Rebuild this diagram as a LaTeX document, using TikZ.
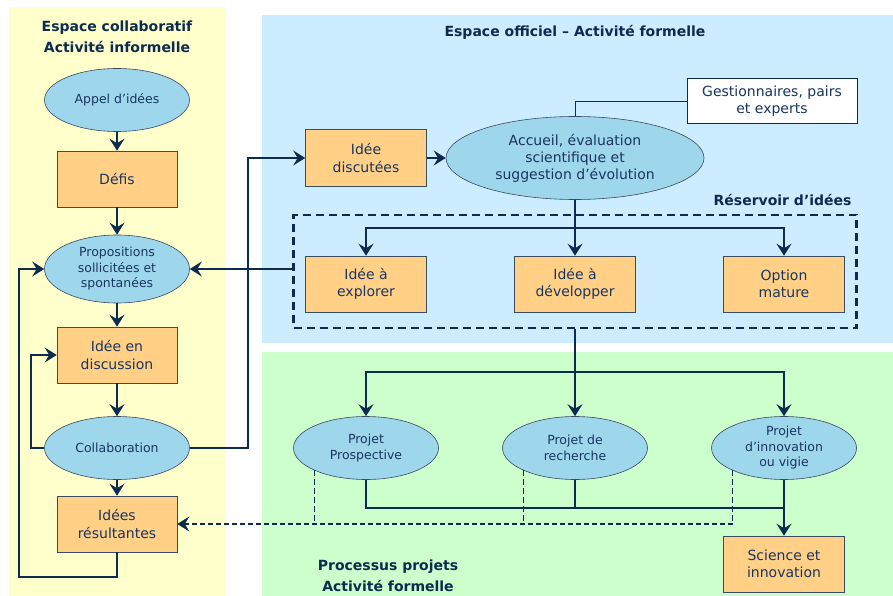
\documentclass[tikz,border=0pt]{standalone}
\usepackage{fontspec}
\setmainfont{DejaVu Sans}
\usetikzlibrary{shapes.geometric,arrows.meta}
\definecolor{ybg}{HTML}{FFFFCC}
\definecolor{bbg}{HTML}{CCECFF}
\definecolor{gbg}{HTML}{CCFFCC}
\definecolor{ellf}{HTML}{9ED6EC}
\definecolor{boxf}{HTML}{FFD086}
\definecolor{lc}{HTML}{0D2B4E}
\definecolor{txt}{HTML}{1A3560}
\definecolor{bord}{HTML}{3A4A60}
\tikzset{
  nfont/.style={font=\fontsize{12.5}{15.5}\selectfont, text=txt, align=center},
  bfont/.style={font=\fontsize{14}{17.5}\selectfont, text=txt, align=center},
  ell/.style={ellipse, draw=bord, line width=0.6pt, fill=ellf, minimum width=145pt, minimum height=63pt, inner sep=0pt, nfont},
  boxo/.style={rectangle, draw=bord, line width=0.6pt, fill=boxf, minimum width=121pt, minimum height=56pt, inner sep=0pt, bfont},
  ttl/.style={font=\fontsize{14}{21.5}\selectfont\bfseries, text=lc, align=center},
  lnk/.style={draw=lc, line width=2pt},
  tip/.style={-{Stealth[length=12pt,width=15pt,inset=4.5pt]}},
  conn/.style={lnk, tip},
  dsh/.style={draw=lc, line width=1.8pt, dash pattern=on 6pt off 3pt},
}
\begin{document}
\begin{tikzpicture}[x=1pt,y=-1pt]
\useasboundingbox (0,0) rectangle (893,596);
% backgrounds
\fill[ybg] (9,7) rectangle (226,596);
\fill[bbg] (262,15) rectangle (893,343);
\fill[gbg] (262,352) rectangle (893,596);
% titles
\node[ttl] (t1) at (117,37) {Espace collaboratif\\Activité informelle};
\node[ttl] (t2) at (575,32) {Espace officiel – Activité formelle};
\node[ttl, anchor=east] (t3) at (855,200) {Réservoir d’idées};
\node[ttl] (t4) at (388,576) {Processus projets\\Activité formelle};
% left column
\node[ell] (appel) at (117,100) {Appel d’idées};
\node[boxo, minimum width=120pt] (defis) at (117,179) {Défis};
\node[ell, minimum height=68pt] (prop) at (117,269) {Propositions\\sollicitées et\\spontanées};
\node[boxo, minimum width=120pt] (disc) at (117,355) {Idée en\\discussion};
\node[ell] (collab) at (117,448) {Collaboration};
\node[boxo, minimum width=120pt] (result) at (117,524) {Idées\\résultantes};
% official space
\node[boxo, minimum height=57pt] (ideed) at (366,158) {Idée\\discutées};
\node[ell, minimum width=258pt, minimum height=83pt, font=\fontsize{14}{17}\selectfont] (accueil) at (575,158) {Accueil, évaluation\\scientifique et\\suggestion d’évolution};
\node[rectangle, draw=lc, line width=0.8pt, fill=white, minimum width=170pt, minimum height=45pt, inner sep=0pt, nfont, font=\fontsize{14}{16.7}\selectfont] (gest) at (772,101) {Gestionnaires, pairs\\et experts};
\node[draw=lc, line width=2.5pt, dash pattern=on 8pt off 5pt, minimum width=563pt, minimum height=113pt, inner sep=0pt] (res) at (575,271.5) {};
\node[boxo] (explorer) at (366,284) {Idée à\\explorer};
\node[boxo] (devel) at (575,284) {Idée à\\développer};
\node[boxo] (option) at (784,284) {Option\\mature};
% projects
\node[ell] (pp) at (366,448) {Projet\\Prospective};
\node[ell] (pr) at (575,448) {Projet de\\recherche};
\node[ell] (pi) at (784,448) {Projet\\d’innovation\\ou vigie};
\node[boxo] (sci) at (784,564) {Science et\\innovation};
% coordinates
\coordinate (lb) at (19,577);
\coordinate (cr) at (248,448);
\coordinate (b1) at (575,228);
\coordinate (b2) at (575,372);
\coordinate (b3) at (784,508);
% left connectors
\draw[conn] (appel) -- (defis);
\draw[conn] (defis) -- (prop);
\draw[conn] (prop) -- (disc);
\draw[conn] (disc) -- (collab);
\draw[conn] (collab) -- (result);
\draw[conn] (result.south) |- (lb) |- (prop.west);
\draw[conn] (collab.west) -- ++(-13,0) |- (disc.west);
\draw[conn] (collab.east) -- (cr) |- (ideed.west);
\draw[conn] (res.west |- prop.east) -- (prop.east);
% official
\draw[conn] (ideed) -- (accueil);
\draw[draw=lc, line width=0.8pt] (accueil.north) |- (gest.west);
\draw[lnk] (accueil.south) -- (b1);
\draw[conn] (b1) -| (explorer.north);
\draw[conn] (b1) -- (devel.north);
\draw[conn] (b1) -| (option.north);
% projects
\draw[lnk] (res.south) -- (b2);
\draw[conn] (b2) -| (pp.north);
\draw[conn] (b2) -- (pr.north);
\draw[conn] (b2) -| (pi.north);
\draw[lnk, line width=2.5pt] (pp.south) |- (b3);
\draw[draw=lc, line width=1.4pt] (pr.south) -- (pr.south |- b3);
\draw[conn] (pi.south) -- (sci.north);
\draw[dsh] (pp.south west) -- (pp.south west |- result.east);
\draw[dsh] (pr.south west) -- (pr.south west |- result.east);
\draw[dsh] (pi.south west) -- (pi.south west |- result.east);
\draw[dsh, line width=2.5pt, dash pattern=on 5pt off 3pt, tip] (pi.south west |- result.east) -- (result.east);
\end{tikzpicture}
\end{document}
